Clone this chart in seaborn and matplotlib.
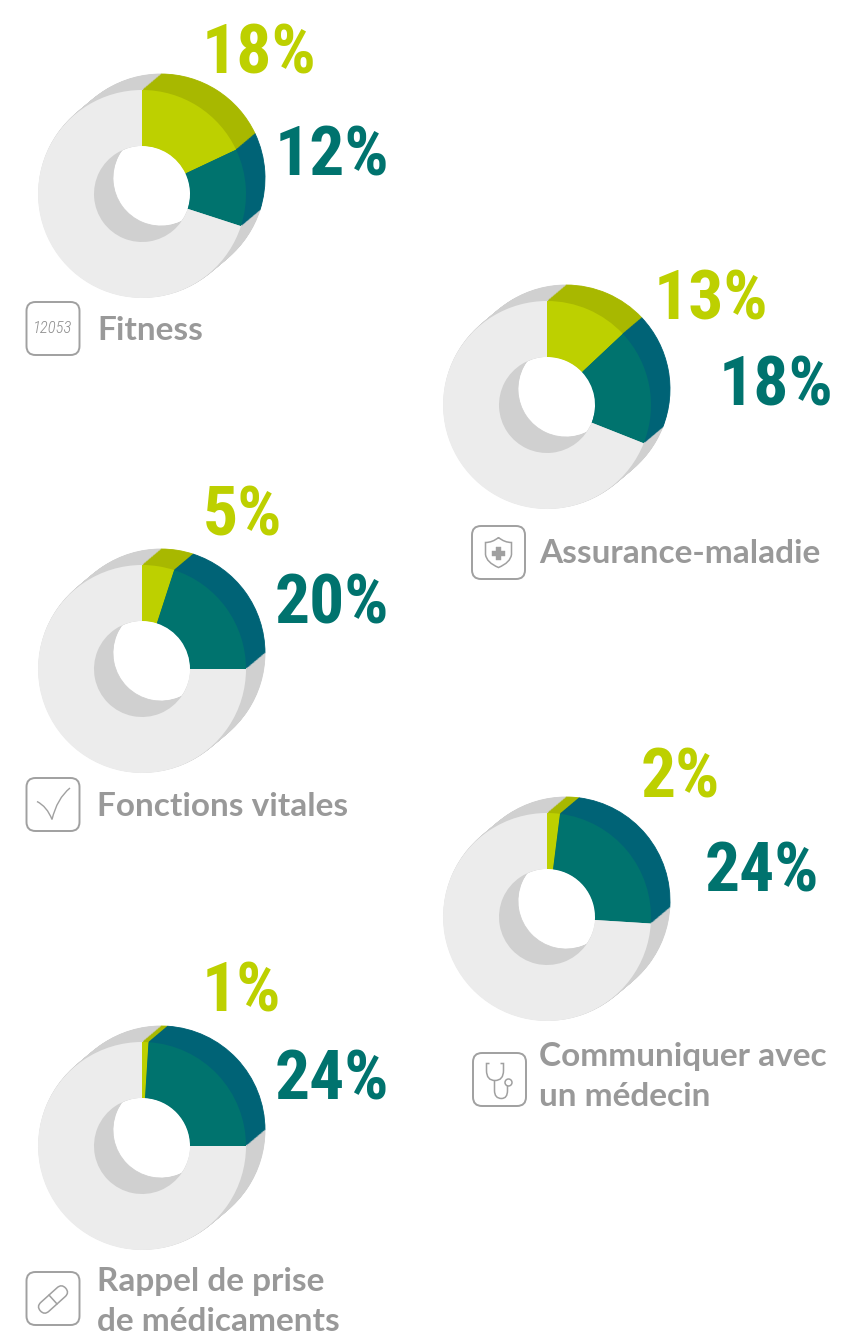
import matplotlib
matplotlib.use("Agg")
import matplotlib.pyplot as plt
import seaborn as sns
from matplotlib.patches import FancyBboxPatch, PathPatch, Circle
from matplotlib.path import Path
from matplotlib.transforms import Affine2D

W, H = 864, 1335

# values
names = ["Fitness", "Assurance-maladie", "Fonctions vitales", "Communiquer avec\nun médecin", "Rappel de prise\nde médicaments"]
green_pct = [18, 13, 5, 2, 1]
teal_pct = [12, 18, 20, 24, 24]
rest_pct = [70, 69, 75, 74, 75]

# layout, in reference pixels (y down)
centers = [(142, 194), (547, 405), (142, 669), (547, 917), (142, 1146)]
green_pos = [(202, 74), (654, 319), (203, 535), (641, 797), (202, 1012)]
teal_pos = [(275, 175), (719, 405), (275, 623), (705, 891), (275, 1099)]
name_pos = [(97, 340), (539, 563), (97, 816), (539, 1066), (97, 1291)]
icon_pos = [(53, 328.5), (498.5, 552.5), (53, 804.5), (499.5, 1079.5), (53, 1298.5)]

front_colors = ["#bdd000", "#00736e", "#ececec"]
side_colors = ["#a8b800", "#006376", "#d0d0d0"]
label_gray = "#999999"
icon_gray = "#a0a0a0"

R, RING = 104, 56
DX, DY = 19, 16
STEPS = 24

sns.set_theme(style="white")
plt.rcParams["font.family"] = ["Lato", "DejaVu Sans"]

fig = plt.figure(figsize=(W / 100, H / 100), dpi=100)
ax = fig.add_axes([0, 0, 1, 1])


def donut(vals, cx, cy):
    # the side wall is the same pie swept from back to front
    for i in range(STEPS, 0, -1):
        t = i / STEPS
        ax.pie(vals, colors=sns.color_palette(side_colors), startangle=90, counterclock=False, radius=R,
               center=(cx + DX * t, H - cy + DY * t),
               wedgeprops=dict(width=RING, linewidth=0.6, edgecolor=None), frame=False)
        for w in ax.patches[-3:]:
            w.set_edgecolor(w.get_facecolor())
    ax.pie(vals, colors=sns.color_palette(front_colors), startangle=90, counterclock=False, radius=R,
           center=(cx, H - cy), wedgeprops=dict(width=RING, linewidth=0), frame=False)


def trace(cx, cy, verts, codes, lw=1.3, fill="none"):
    verts = [(cx + x, H - (cy + y)) for x, y in verts]
    ax.add_patch(PathPatch(Path(verts, codes), facecolor=fill, edgecolor=icon_gray, lw=lw))


def icon_box(cx, cy):
    ax.add_patch(FancyBboxPatch((cx - 19, H - cy - 19), 38, 38, boxstyle="round,pad=7.5,rounding_size=9",
                                facecolor="none", edgecolor=icon_gray, lw=1.4))


M, L, C = Path.MOVETO, Path.LINETO, Path.CURVE3


def icon_fitness(cx, cy):
    ax.text(cx, H - cy, "12053", ha="center", va="center", fontsize=12, style="italic", weight="light", color="#8f8f8f",
            family=["Roboto Condensed", "Liberation Sans Narrow", "DejaVu Sans"])


def icon_shield(cx, cy):
    trace(cx, cy, [(0, -15), (6, -10), (13, -10), (13, 2), (12, 10), (0, 15), (-12, 10), (-13, 2), (-13, -10), (-6, -10), (0, -15)],
          [M, C, C, L, C, C, C, C, L, C, C], lw=1.1)
    trace(cx, cy, [(-2.5, -6), (2.5, -6), (2.5, -2), (6.5, -2), (6.5, 3), (2.5, 3), (2.5, 7), (-2.5, 7), (-2.5, 3), (-6.5, 3), (-6.5, -2), (-2.5, -2), (-2.5, -6)],
          [M] + [L] * 12, lw=0.3, fill=icon_gray)


def icon_check(cx, cy):
    trace(cx, cy, [(-16, -3), (-6, 2), (-1, 15), (4, -6), (17, -16.5)], [M, C, C, C, C], lw=1.0)


def icon_stetho(cx, cy):
    trace(cx, cy, [(-10, -16), (-13, -16), (-13, -9), (-13, 1), (-4.5, 1), (4, 1), (4, -9), (4, -16), (1, -16)],
          [M, L, L, C, C, C, C, L, L], lw=1.1)
    trace(cx, cy, [(-5, 1), (-5, 11), (-5, 19), (2, 19), (8, 19), (8, 11), (8, 6)], [M, L, C, C, C, C, L], lw=1.1)
    ax.add_patch(Circle((cx + 9, H - cy - 3), 3.5, facecolor="none", edgecolor=icon_gray, lw=1.1))


def icon_pill(cx, cy):
    cy = cy + 1
    rot = Affine2D().rotate_deg_around(cx, H - cy, 42) + ax.transData
    ax.add_patch(FancyBboxPatch((cx - 12, H - cy - 1), 24, 2, boxstyle="round,pad=5,rounding_size=6",
                                facecolor="none", edgecolor=icon_gray, lw=1.1, transform=rot))
    ax.plot([cx, cx], [H - cy - 6, H - cy + 6], color=icon_gray, lw=1.1, transform=rot)


icons = [icon_fitness, icon_shield, icon_check, icon_stetho, icon_pill]

pct_font = dict(family=["Roboto Condensed", "Liberation Sans Narrow", "Roboto"], weight="bold", fontsize=50)
name_font = dict(weight="bold", fontsize=24, color=label_gray)

for i in range(len(names)):
    cx, cy = centers[i]
    donut([green_pct[i], teal_pct[i], rest_pct[i]], cx, cy)
    ax.text(green_pos[i][0], H - green_pos[i][1], f"{green_pct[i]}%", color=front_colors[0], va="baseline", **pct_font)
    ax.text(teal_pos[i][0], H - teal_pos[i][1], f"{teal_pct[i]}%", color=front_colors[1], va="baseline", **pct_font)
    for j, line in enumerate(names[i].split("\n")):
        ax.text(name_pos[i][0], H - name_pos[i][1] - 40 * j, line, va="baseline", **name_font)
    icon_box(*icon_pos[i])
    icons[i](*icon_pos[i])

ax.set_xlim(0, W)
ax.set_ylim(0, H)
ax.set_axis_off()

fig.savefig("out.png", dpi=100)
